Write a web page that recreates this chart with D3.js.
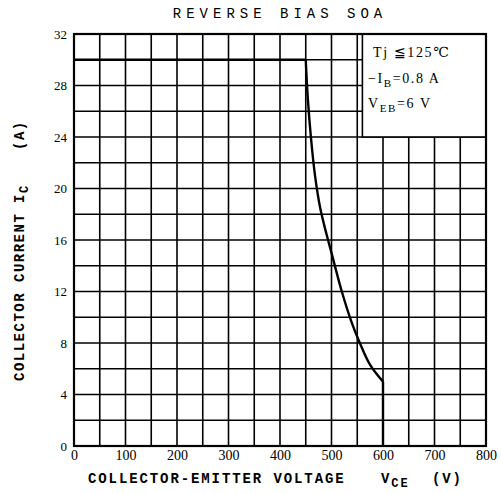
<!DOCTYPE html>
<html><head><meta charset="utf-8">
<script src="https://cdn.jsdelivr.net/npm/d3@7"></script>
<style>body{margin:0;background:#fff}svg{display:block}</style>
</head><body>
<svg id="c" width="501" height="493"></svg>
<script>
const xTicks = [0,100,200,300,400,500,600,700,800];
const yTicks = [0,4,8,12,16,20,24,28,32];
const xGrid = [50,100,150,200,250,300,350,400,450,500,550,600,650,700,750];
const yGrid = [2,4,6,8,10,12,14,16,18,20,22,24,26,28,30];
const soaV = [0,450,454,460,468,478,490,500,520,540,555,575,600,600];
const soaI = [30,30,27,24,21,18.5,16.5,15,12,9.5,8,6.3,5,0];
const legendLines = ["Tj ≦125℃","−I","B","=0.8 A","V","EB","=6 V"];

const svg = d3.select("#c");
const x = d3.scaleLinear().domain([0,800]).range([74,486]);
const y = d3.scaleLinear().domain([0,32]).range([446,34]);
const font = "'Liberation Mono', 'DejaVu Sans Mono', monospace";
const serif = "'Liberation Serif', 'DejaVu Serif', serif";

const g = svg.append("g");
g.selectAll(".vg").data(xGrid).join("line")
  .attr("x1",d=>x(d)).attr("x2",d=>x(d)).attr("y1",y(0)).attr("y2",y(32))
  .attr("stroke","#000").attr("stroke-width",1.6);
g.selectAll(".hg").data(yGrid).join("line")
  .attr("x1",x(0)).attr("x2",x(800)).attr("y1",d=>y(d)).attr("y2",d=>y(d))
  .attr("stroke","#000").attr("stroke-width",1.4);
g.append("rect").attr("x",x(560)).attr("y",y(32)).attr("width",x(800)-x(560)).attr("height",y(24)-y(32))
  .attr("fill","#fff").attr("stroke","#000").attr("stroke-width",1.6);
g.append("rect").attr("x",x(0)).attr("y",y(32)).attr("width",x(800)-x(0)).attr("height",y(0)-y(32))
  .attr("fill","none").attr("stroke","#000").attr("stroke-width",2.2);

const idx = soaV.map((v,i)=>i);
const L = d3.line().x(i=>x(soaV[i])).y(i=>y(soaI[i]));
g.append("path").attr("d", L(idx.slice(0,2)))
  .attr("fill","none").attr("stroke","#000").attr("stroke-width",2.4);
g.append("path").attr("d", d3.line().x(i=>x(soaV[i])).y(i=>y(soaI[i])).curve(d3.curveCatmullRom.alpha(0.5))(idx.slice(1,13)))
  .attr("fill","none").attr("stroke","#000").attr("stroke-width",2.4);
g.append("path").attr("d", L(idx.slice(12,14)))
  .attr("fill","none").attr("stroke","#000").attr("stroke-width",2.4);

const xAxis = d3.axisBottom(x).tickValues(xTicks).tickSize(0).tickPadding(4);
const xa = svg.append("g").attr("transform",`translate(0,${y(0)})`).call(xAxis);
xa.select(".domain").remove();
xa.selectAll("text").attr("font-family",serif).attr("font-size",14).attr("fill","#000");
const yAxis = d3.axisLeft(y).tickValues(yTicks).tickSize(0).tickPadding(7);
const ya = svg.append("g").attr("transform",`translate(${x(0)},0)`).call(yAxis);
ya.select(".domain").remove();
ya.selectAll("text").attr("font-family",serif).attr("font-size",13).attr("fill","#000");

svg.append("text").attr("x",280).attr("y",18).attr("text-anchor","middle")
  .attr("font-family",font).attr("font-size",14).attr("letter-spacing",5).text("REVERSE BIAS SOA");

// x title
const xf = svg.append("g").attr("font-family",font).attr("font-size",14).attr("font-weight","bold").attr("letter-spacing",1.9);
xf.append("text").attr("x",88).attr("y",483).text("COLLECTOR-EMITTER VOLTAGE");
const xv = xf.append("text").attr("x",381).attr("y",483);
xv.append("tspan").text("V");
xv.append("tspan").attr("dy",4).attr("font-size",12).text("CE");
xf.append("text").attr("x",432).attr("y",483).text("(V)");

// y title
const yf = svg.append("g").attr("transform","translate(24,0) rotate(-90)")
  .attr("font-family",font).attr("font-size",14).attr("font-weight","bold").attr("letter-spacing",1.5);
yf.append("text").attr("x",-381).attr("y",0).text("COLLECTOR CURRENT");
const yi = yf.append("text").attr("x",-203).attr("y",0);
yi.append("tspan").text("I");
yi.append("tspan").attr("dy",4).attr("font-size",12).text("C");
yf.append("text").attr("x",-150).attr("y",0).text("(A)");

// legend
const lg = svg.append("g").attr("font-family",serif).attr("font-size",14).attr("letter-spacing",1.6);
lg.append("text").attr("x",373).attr("y",57).text(legendLines[0]);
const l2 = lg.append("text").attr("x",368).attr("y",83);
l2.append("tspan").text(legendLines[1]);
l2.append("tspan").attr("dy",4).attr("font-size",11).text(legendLines[2]);
l2.append("tspan").attr("dy",-4).text(legendLines[3]);
const l3 = lg.append("text").attr("x",368).attr("y",108);
l3.append("tspan").text(legendLines[4]);
l3.append("tspan").attr("dy",4).attr("font-size",11).text(legendLines[5]);
l3.append("tspan").attr("dy",-4).text(legendLines[6]);
</script>
</body></html>
